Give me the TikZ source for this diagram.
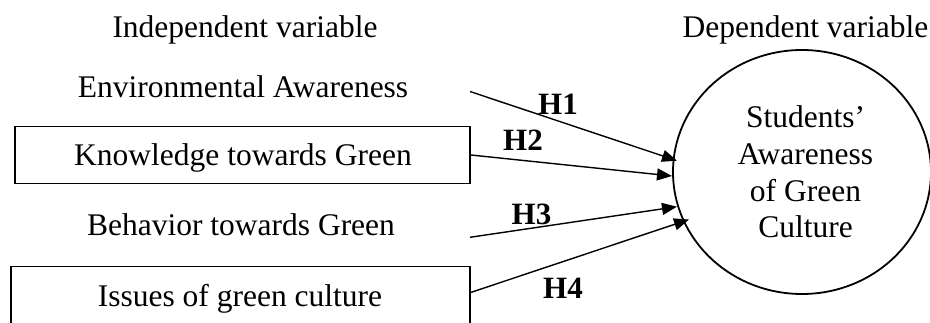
\documentclass[tikz,border=0pt]{standalone}
\usepackage{fontspec}
\setmainfont{Liberation Serif}
\usetikzlibrary{arrows.meta,shapes.geometric}
\begin{document}
\begin{tikzpicture}[x=1pt,y=-1pt,
  lbl/.style={font=\fontsize{31.5}{36.7}\selectfont, inner sep=0pt, anchor=base},
  hyp/.style={font=\fontsize{31}{34}\selectfont\bfseries, inner sep=0pt, anchor=base},
  boxnode/.style={draw, line width=1.8pt, inner sep=0pt},
  conn/.style={-{Triangle[length=15pt,width=12pt]}, line width=1.4pt}]
\useasboundingbox (0,0) rectangle (930,323);
\clip (0,0) rectangle (930,323);
% boxes
\node[boxnode, minimum width=455pt, minimum height=57pt] (b1) at (242.5,155) {};
\node[boxnode, minimum width=459pt, minimum height=70pt] (b2) at (240.5,301.5) {};
% labels
\node[lbl] (iv) at (245,37.3) {Independent variable};
\node[lbl, anchor=base east] (dvl) at (928.5,37.3) {Dependent variable};
\node[lbl] (t1) at (243,97.7) {Environmental Awareness};
\node[lbl] (t2) at (243,165.7) {Knowledge towards Green};
\node[lbl] (t3) at (241,236) {Behavior towards Green};
\node[lbl] (t4) at (240,306.7) {Issues of green culture};
% dependent variable circle
\node[draw, ellipse, line width=1.8pt, minimum width=258pt, minimum height=244pt, inner sep=0pt] (dv) at (802,172) {};
\node[lbl, anchor=center, align=center] (dvt) at (805.5,172) {Students'\\Awareness\\of Green\\Culture};
% connector ends
\coordinate (s1) at (470,91.5);
\coordinate (s3) at (470,237.3);
\coordinate (s4) at (470,292.7);
\coordinate (e1) at (677,160.7);
\coordinate (e2) at (672,176);
\coordinate (e3) at (677,206.7);
\coordinate (e4) at (689,219.5);
\draw[conn] (s1) -- (e1);
\draw[conn] (b1.east) -- (e2);
\draw[conn] (s3) -- (e3);
\draw[conn] (s4) -- (e4);
% hypothesis labels
\node[hyp] (h1) at (558,115) {H1};
\node[hyp] (h2) at (523,151) {H2};
\node[hyp] (h3) at (531.5,225) {H3};
\node[hyp] (h4) at (563,299) {H4};
\end{tikzpicture}
\end{document}
